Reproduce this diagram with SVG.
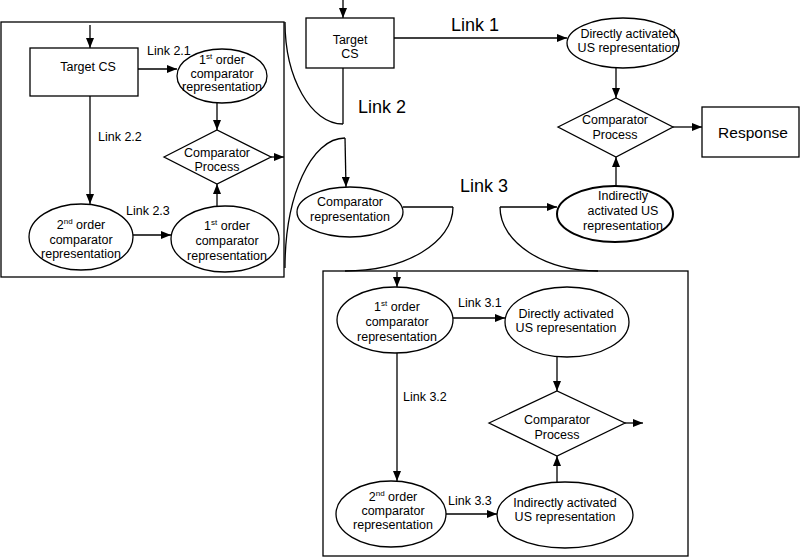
<svg xmlns="http://www.w3.org/2000/svg" width="800" height="559" viewBox="0 0 800 559">
<defs>
<marker id="ah" markerUnits="userSpaceOnUse" markerWidth="10" markerHeight="8" refX="10" refY="4" orient="auto">
<path d="M0,0 L10,4 L0,8 z" fill="#000"/>
</marker>
<style>
.s{fill:#fff;stroke:#000;stroke-width:1.3}
.f{fill:none;stroke:#000;stroke-width:1.3}
.a{fill:none;stroke:#000;stroke-width:1.3;marker-end:url(#ah)}
text{font-family:"Liberation Sans",Arial,sans-serif;font-size:12.5px;fill:#000}
.m{text-anchor:middle}
.big{font-size:18px}
.sup{font-size:8px}
</style>
</defs>
<rect width="800" height="559" fill="#fff"/>

<g id="connectors">
<!-- left box -->
<line class="a" x1="90" y1="25" x2="90" y2="48"/>
<line class="a" x1="138" y1="69" x2="177" y2="69"/>
<line class="a" x1="217" y1="103" x2="217" y2="130"/>
<line class="a" x1="271" y1="157" x2="284" y2="157"/>
<line class="a" x1="90" y1="96" x2="90" y2="204"/>
<line class="a" x1="133" y1="235" x2="171" y2="235"/>
<line class="a" x1="217" y1="207" x2="217" y2="184"/>
<!-- main -->
<line class="a" x1="343" y1="0" x2="343" y2="18"/>
<line class="a" x1="394" y1="38" x2="567" y2="38"/>
<line class="a" x1="616" y1="68" x2="616" y2="98"/>
<line class="a" x1="673" y1="127" x2="702" y2="127"/>
<line class="a" x1="616" y1="186" x2="616" y2="157"/>
<line class="f" x1="343" y1="68" x2="343" y2="124"/>
<path class="f" d="M285,22 C285,78 311,124 343,124"/>
<path class="f" d="M345,138 C311,138 285,196 285,268"/>
<line class="a" x1="345" y1="138" x2="346" y2="187"/>
<line class="f" x1="403" y1="207" x2="453" y2="207"/>
<path class="f" d="M453,207 C453,243 405,271 345,271"/>
<line class="a" x1="500" y1="207" x2="557" y2="207"/>
<path class="f" d="M500,207 C500,243 545,271 598,271"/>
<!-- bottom box -->
<line class="a" x1="397" y1="272" x2="397" y2="287"/>
<line class="a" x1="453" y1="318" x2="505" y2="318"/>
<line class="a" x1="557" y1="357" x2="557" y2="391"/>
<line class="a" x1="625" y1="423" x2="643" y2="423"/>
<line class="a" x1="397" y1="353" x2="397" y2="481"/>
<line class="a" x1="446" y1="514" x2="497" y2="514"/>
<line class="a" x1="557" y1="482" x2="557" y2="456"/>
</g>

<g id="leftBox">
<rect class="f" x="1" y="22" width="283" height="255"/>
</g>
<g id="bottomBox">
<rect class="f" x="323" y="271" width="365" height="285"/>
</g>

<g id="lTargetCS">
<rect class="s" x="30" y="48" width="108" height="48"/>
<text class="m" x="88" y="71">Target CS</text>
</g>
<g id="lFirst1">
<ellipse class="s" cx="222" cy="76" rx="45" ry="27"/>
<text class="m" x="222" y="64">1<tspan class="sup" dy="-5">st</tspan><tspan dy="5"> order</tspan></text>
<text class="m" x="222" y="78">comparator</text>
<text class="m" x="222" y="91">representation</text>
</g>
<g id="lComparator">
<polygon class="s" points="164,157 217,130 271,157 217,184"/>
<text class="m" x="217" y="157">Comparator</text>
<text class="m" x="217" y="171">Process</text>
</g>
<g id="lSecond">
<ellipse class="s" cx="81" cy="237" rx="52" ry="33"/>
<text class="m" x="81" y="229">2<tspan class="sup" dy="-5">nd</tspan><tspan dy="5"> order</tspan></text>
<text class="m" x="81" y="244">comparator</text>
<text class="m" x="81" y="258">representation</text>
</g>
<g id="lFirst2">
<ellipse class="s" cx="225" cy="239" rx="54" ry="33"/>
<text class="m" x="227" y="230">1<tspan class="sup" dy="-5">st</tspan><tspan dy="5"> order</tspan></text>
<text class="m" x="227" y="245">comparator</text>
<text class="m" x="227" y="260">representation</text>
</g>
<g id="lLabels">
<text x="147" y="55">Link 2.1</text>
<text x="98" y="141">Link 2.2</text>
<text x="126" y="215">Link 2.3</text>
</g>

<g id="targetCS">
<rect class="s" x="306" y="18" width="88" height="50"/>
<text class="m" x="350" y="44">Target</text>
<text class="m" x="350" y="58">CS</text>
</g>
<g id="directUS">
<ellipse class="s" cx="623" cy="43" rx="56" ry="25"/>
<text class="m" x="628" y="38">Directly activated</text>
<text class="m" x="628" y="52">US representation</text>
</g>
<g id="comparator">
<polygon class="s" points="558,127 616,98 673,127 616,157"/>
<text class="m" x="615" y="124">Comparator</text>
<text class="m" x="615" y="139">Process</text>
</g>
<g id="response">
<rect class="s" x="702" y="107" width="97" height="50"/>
<text class="m" x="753" y="138" style="font-size:15.5px">Response</text>
</g>
<g id="indirectUS">
<ellipse class="s" cx="615" cy="214" rx="58" ry="28" style="stroke-width:2"/>
<text class="m" x="623" y="200">Indirectly</text>
<text class="m" x="623" y="215">activated US</text>
<text class="m" x="623" y="230">representation</text>
</g>
<g id="compRep">
<ellipse class="s" cx="350" cy="212" rx="53" ry="25"/>
<text class="m" x="350" y="206">Comparator</text>
<text class="m" x="350" y="221">representation</text>
</g>
<g id="mainLabels">
<text class="big" x="451" y="31">Link 1</text>
<text class="big" x="358" y="113">Link 2</text>
<text class="big" x="460" y="192">Link 3</text>
</g>

<g id="bFirst">
<ellipse class="s" cx="395" cy="320" rx="58" ry="33"/>
<text class="m" x="397" y="311">1<tspan class="sup" dy="-5">st</tspan><tspan dy="5"> order</tspan></text>
<text class="m" x="397" y="326">comparator</text>
<text class="m" x="397" y="341">representation</text>
</g>
<g id="bDirect">
<ellipse class="s" cx="567" cy="322" rx="62" ry="35"/>
<text class="m" x="566" y="318">Directly activated</text>
<text class="m" x="566" y="332">US representation</text>
</g>
<g id="bComparator">
<polygon class="s" points="489,423 557,391 625,423 557,456"/>
<text class="m" x="557" y="424">Comparator</text>
<text class="m" x="557" y="439">Process</text>
</g>
<g id="bSecond">
<ellipse class="s" cx="391" cy="514" rx="55" ry="33"/>
<text class="m" x="393" y="501">2<tspan class="sup" dy="-5">nd</tspan><tspan dy="5"> order</tspan></text>
<text class="m" x="393" y="515">comparator</text>
<text class="m" x="393" y="529">representation</text>
</g>
<g id="bIndirect">
<ellipse class="s" cx="565" cy="515" rx="68" ry="33"/>
<text class="m" x="565" y="507">Indirectly activated</text>
<text class="m" x="565" y="521">US representation</text>
</g>
<g id="bLabels">
<text x="458" y="307">Link 3.1</text>
<text x="403" y="401">Link 3.2</text>
<text x="448" y="505">Link 3.3</text>
</g>
</svg>
